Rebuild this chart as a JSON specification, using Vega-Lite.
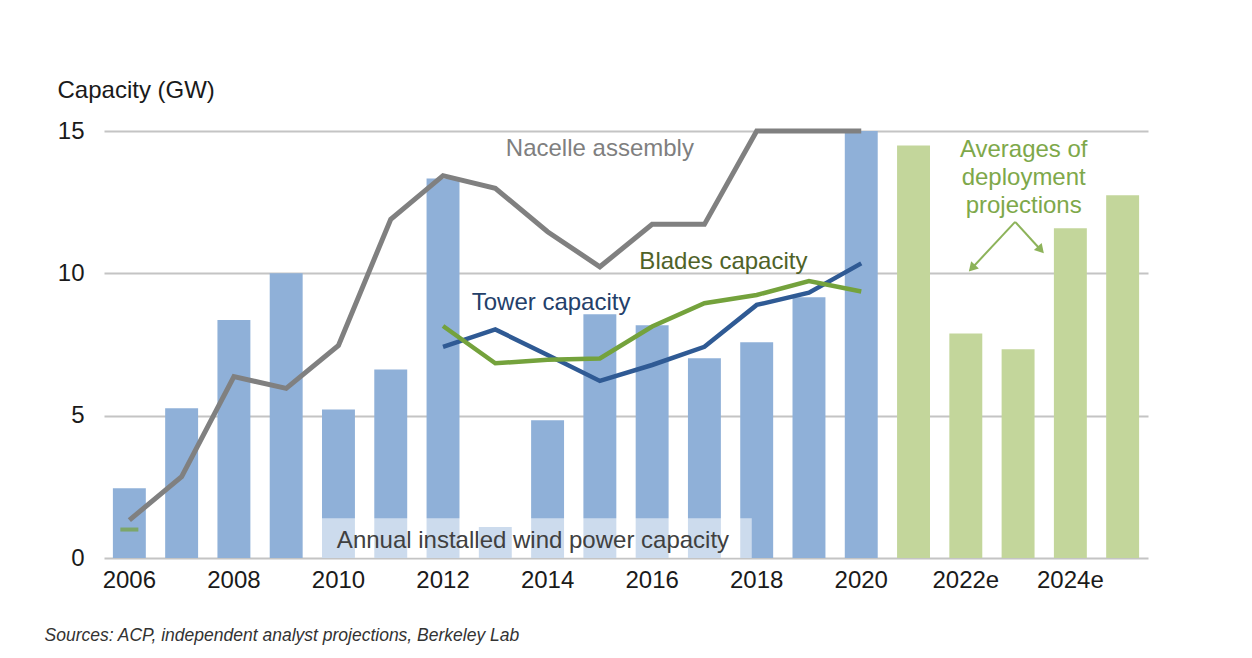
{
  "$schema": "https://vega.github.io/schema/vega-lite/v6.json",
  "width": 1044,
  "height": 427,
  "autosize": {"type": "none"},
  "padding": {"left": 104, "top": 131, "right": 104, "bottom": 100},
  "background": "white",
  "config": {
    "view": {"stroke": null},
    "font": "Liberation Sans",
    "axis": {"labelFont": "Liberation Sans", "titleFont": "Liberation Sans"}
  },
  "datasets": {
    "bars": [
      {"year": "2006", "cap": 2.45, "kind": "Annual installed"},
      {"year": "2007", "cap": 5.26, "kind": "Annual installed"},
      {"year": "2008", "cap": 8.36, "kind": "Annual installed"},
      {"year": "2009", "cap": 10.0, "kind": "Annual installed"},
      {"year": "2010", "cap": 5.22, "kind": "Annual installed"},
      {"year": "2011", "cap": 6.62, "kind": "Annual installed"},
      {"year": "2012", "cap": 13.33, "kind": "Annual installed"},
      {"year": "2013", "cap": 1.09, "kind": "Annual installed"},
      {"year": "2014", "cap": 4.84, "kind": "Annual installed"},
      {"year": "2015", "cap": 8.56, "kind": "Annual installed"},
      {"year": "2016", "cap": 8.18, "kind": "Annual installed"},
      {"year": "2017", "cap": 7.02, "kind": "Annual installed"},
      {"year": "2018", "cap": 7.58, "kind": "Annual installed"},
      {"year": "2019", "cap": 9.16, "kind": "Annual installed"},
      {"year": "2020", "cap": 15.1, "kind": "Annual installed"},
      {"year": "2021e", "cap": 14.49, "kind": "Projection"},
      {"year": "2022e", "cap": 7.89, "kind": "Projection"},
      {"year": "2023e", "cap": 7.33, "kind": "Projection"},
      {"year": "2024e", "cap": 11.58, "kind": "Projection"},
      {"year": "2025e", "cap": 12.74, "kind": "Projection"}
    ],
    "lines": [
      {"year": "2006", "nacelle": 1.33, "tower": null, "blades": null},
      {"year": "2007", "nacelle": 2.86, "tower": null, "blades": null},
      {"year": "2008", "nacelle": 6.37, "tower": null, "blades": null},
      {"year": "2009", "nacelle": 5.96, "tower": null, "blades": null},
      {"year": "2010", "nacelle": 7.47, "tower": null, "blades": null},
      {"year": "2011", "nacelle": 11.9, "tower": null, "blades": null},
      {"year": "2012", "nacelle": 13.43, "tower": 7.42, "blades": 8.15},
      {"year": "2013", "nacelle": 12.99, "tower": 8.03, "blades": 6.84},
      {"year": "2014", "nacelle": 11.46, "tower": 7.13, "blades": 6.96},
      {"year": "2015", "nacelle": 10.23, "tower": 6.22, "blades": 7.01},
      {"year": "2016", "nacelle": 11.72, "tower": 6.78, "blades": 8.13},
      {"year": "2017", "nacelle": 11.72, "tower": 7.42, "blades": 8.95},
      {"year": "2018", "nacelle": 15.0, "tower": 8.89, "blades": 9.24},
      {"year": "2019", "nacelle": 15.0, "tower": 9.32, "blades": 9.73},
      {"year": "2020", "nacelle": 15.0, "tower": 10.35, "blades": 9.36}
    ]
  },
  "encoding": {
    "x": {
      "field": "year",
      "type": "nominal",
      "sort": null,
      "scale": {
        "domain": ["2006","2007","2008","2009","2010","2011","2012","2013","2014","2015","2016","2017","2018","2019","2020","2021e","2022e","2023e","2024e","2025e"],
        "paddingInner": 0.37,
        "paddingOuter": 0.17
      },
      "axis": {
        "values": ["2006","2008","2010","2012","2014","2016","2018","2020","2022e","2024e"],
        "labelAngle": 0,
        "labelFontSize": 24,
        "labelColor": "#1a1a1a",
        "labelPadding": 10,
        "ticks": false,
        "domain": false,
        "title": "Sources: ACP, independent analyst projections, Berkeley Lab",
        "titleFontSize": 17.5,
        "titleFontStyle": "italic",
        "titleFontWeight": "normal",
        "titleColor": "#333333",
        "titleAnchor": "start",
        "titleAlign": "left",
        "titleBaseline": "alphabetic",
        "titleX": -60,
        "titleY": 82
      }
    }
  },
  "layer": [
    {
      "data": {"name": "bars"},
      "mark": {"type": "bar"},
      "encoding": {
        "y": {
          "field": "cap",
          "type": "quantitative",
          "scale": {"domain": [0, 15], "clamp": true, "nice": false},
          "axis": {
            "values": [0, 5, 10, 15],
            "labelFontSize": 24,
            "labelColor": "#1a1a1a",
            "labelPadding": 20,
            "ticks": false,
            "domain": false,
            "gridColor": "#c4c4c4",
            "gridWidth": 2,
            "title": "Capacity (GW)",
            "titleAngle": 0,
            "titleFontSize": 24,
            "titleFontWeight": "normal",
            "titleColor": "#1a1a1a",
            "titleAlign": "left",
            "titleBaseline": "alphabetic",
            "titleX": -47,
            "titleY": -34
          }
        },
        "color": {
          "field": "kind",
          "type": "nominal",
          "scale": {"domain": ["Annual installed", "Projection"], "range": ["#8fb0d8", "#c3d69b"]},
          "legend": null
        }
      }
    },
    {
      "data": {"values": [{"from": "2010", "to": "2018", "lo": 0, "hi": 1.4}]},
      "mark": {"type": "rect", "color": "white", "opacity": 0.55},
      "encoding": {
        "x": {"field": "from", "type": "nominal", "bandPosition": 0},
        "x2": {"field": "to", "bandPosition": 0.35},
        "y": {"field": "lo", "type": "quantitative"},
        "y2": {"field": "hi"}
      }
    },
    {
      "data": {"name": "lines"},
      "mark": {"type": "line", "color": "#808080", "strokeWidth": 5},
      "encoding": {"y": {"field": "nacelle", "type": "quantitative"}}
    },
    {
      "data": {"name": "lines"},
      "mark": {"type": "line", "color": "#2f5a94", "strokeWidth": 4.5},
      "encoding": {"y": {"field": "tower", "type": "quantitative"}}
    },
    {
      "data": {"name": "lines"},
      "mark": {"type": "line", "color": "#74a23c", "strokeWidth": 4.5},
      "encoding": {"y": {"field": "blades", "type": "quantitative"}}
    },
    {
      "data": {"values": [{"year": "2006", "blades": 1.0}]},
      "mark": {"type": "tick", "color": "#74a23c", "size": 18, "thickness": 4},
      "encoding": {"y": {"field": "blades", "type": "quantitative"}}
    },
    {
      "data": {"values": [
        {"x1": "2023e", "y1": 11.81, "x2": "2022e", "y2": 10.18, "p2": 0.685},
        {"x1": "2023e", "y1": 11.81, "x2": "2023e", "y2": 10.82, "p2": 1.19}
      ]},
      "layer": [
        {
          "transform": [{"filter": "datum.p2 < 1"}],
          "mark": {"type": "rule", "color": "#8db35a", "strokeWidth": 2},
          "encoding": {
            "x": {"field": "x1", "type": "nominal", "bandPosition": 0.41},
            "x2": {"field": "x2", "bandPosition": 0.685},
            "y": {"field": "y1", "type": "quantitative"},
            "y2": {"field": "y2"}
          }
        },
        {
          "transform": [{"filter": "datum.p2 > 1"}],
          "mark": {"type": "rule", "color": "#8db35a", "strokeWidth": 2},
          "encoding": {
            "x": {"field": "x1", "type": "nominal", "bandPosition": 0.41},
            "x2": {"field": "x2", "bandPosition": 1.19},
            "y": {"field": "y1", "type": "quantitative"},
            "y2": {"field": "y2"}
          }
        },
        {
          "transform": [{"filter": "datum.p2 < 1"}],
          "mark": {"type": "point", "shape": "triangle-up", "filled": true, "color": "#8db35a", "size": 110, "opacity": 1, "angle": 223},
          "encoding": {
            "x": {"field": "x2", "type": "nominal", "bandPosition": 0.685},
            "y": {"field": "y2", "type": "quantitative"}
          }
        },
        {
          "transform": [{"filter": "datum.p2 > 1"}],
          "mark": {"type": "point", "shape": "triangle-up", "filled": true, "color": "#8db35a", "size": 110, "opacity": 1, "angle": 138},
          "encoding": {
            "x": {"field": "x2", "type": "nominal", "bandPosition": 1.19},
            "y": {"field": "y2", "type": "quantitative"}
          }
        }
      ]
    },
    {
      "data": {"values": [{"year": "2015", "v": 14.37, "label": "Nacelle assembly"}]},
      "mark": {"type": "text", "fontSize": 24, "color": "#7f7f7f", "baseline": "middle", "align": "center", "dx": 0},
      "encoding": {"y": {"field": "v", "type": "quantitative"}, "text": {"field": "label"}}
    },
    {
      "data": {"values": [{"year": "2017", "v": 10.4, "label": "Blades capacity"}]},
      "mark": {"type": "text", "fontSize": 24, "color": "#4f6228", "baseline": "middle", "align": "center", "dx": 19},
      "encoding": {"y": {"field": "v", "type": "quantitative"}, "text": {"field": "label"}}
    },
    {
      "data": {"values": [{"year": "2014", "v": 8.96, "label": "Tower capacity"}]},
      "mark": {"type": "text", "fontSize": 24, "color": "#24406a", "baseline": "middle", "align": "center", "dx": 3.5},
      "encoding": {"y": {"field": "v", "type": "quantitative"}, "text": {"field": "label"}}
    },
    {
      "data": {"values": [{"year": "2023e", "v": 14.32, "label": "Averages of|deployment|projections"}]},
      "mark": {"type": "text", "fontSize": 24, "color": "#7ea84a", "baseline": "middle", "align": "center", "dx": 5.6, "lineBreak": "|", "lineHeight": 28},
      "encoding": {"y": {"field": "v", "type": "quantitative"}, "text": {"field": "label"}}
    },
    {
      "data": {"values": [{"year": "2014", "v": 0.6, "label": "Annual installed wind power capacity"}]},
      "mark": {"type": "text", "fontSize": 24, "color": "#404040", "baseline": "middle", "align": "center", "dx": -14.6},
      "encoding": {"y": {"field": "v", "type": "quantitative"}, "text": {"field": "label"}}
    }
  ]
}
